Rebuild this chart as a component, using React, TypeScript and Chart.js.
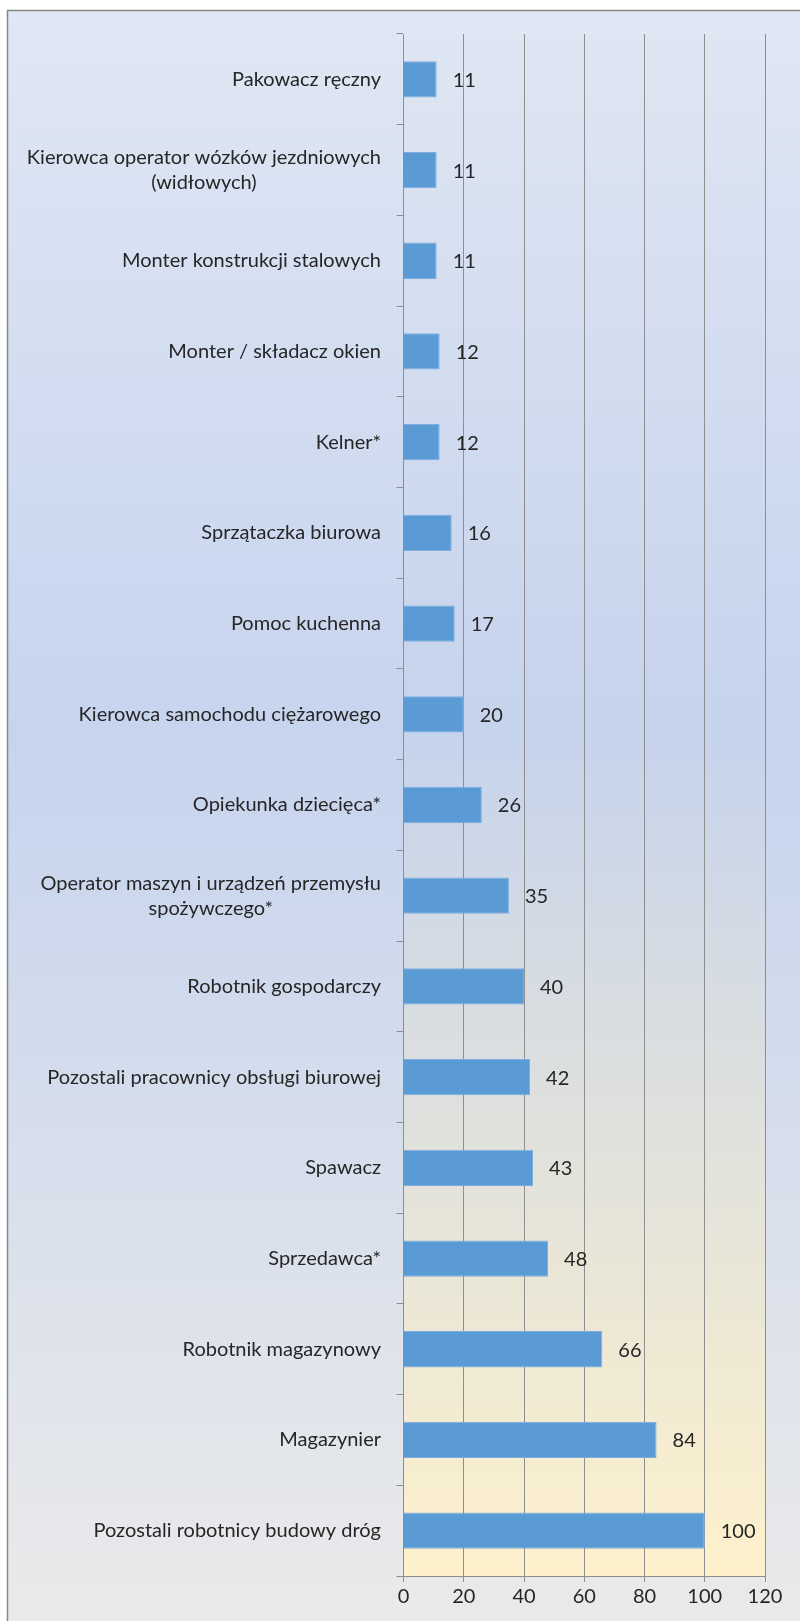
import React, { useEffect, useRef } from "react";
import { Chart, registerables } from "chart.js";

Chart.register(...registerables);

const categories: (string | string[])[] = [
  "Pakowacz ręczny",
  ["Kierowca operator wózków jezdniowych", "(widłowych)"],
  "Monter konstrukcji stalowych",
  "Monter / składacz okien",
  "Kelner*",
  "Sprzątaczka biurowa",
  "Pomoc kuchenna",
  "Kierowca samochodu ciężarowego",
  "Opiekunka dziecięca*",
  ["Operator maszyn i urządzeń przemysłu", "spożywczego*"],
  "Robotnik gospodarczy",
  "Pozostali pracownicy obsługi biurowej",
  "Spawacz",
  "Sprzedawca*",
  "Robotnik magazynowy",
  "Magazynier",
  "Pozostali robotnicy budowy dróg",
];

const values = [11, 11, 11, 12, 12, 16, 17, 20, 26, 35, 40, 42, 43, 48, 66, 84, 100];

const xMin = 0;
const xMax = 120;
const xStep = 20;

const W = 800;
const H = 1621;
const FONT = "Lato, 'Open Sans', sans-serif";
const FS = 20;
const TEXT = "#262626";
const GRID = "#8e8e8e";
const LABEL_RIGHT = 381;
const LINE_H = 25;

export default function App() {
  const ref = useRef<HTMLCanvasElement | null>(null);

  useEffect(() => {
    const canvas = ref.current;
    if (!canvas) return;

    const bgPlugin = {
      id: "bg",
      beforeDraw(chart: any) {
        const { ctx, chartArea } = chart;
        ctx.save();
        ctx.fillStyle = "#ffffff";
        ctx.fillRect(0, 0, W, H);
        const g = ctx.createLinearGradient(0, 10, 0, H);
        g.addColorStop(0, "#e0e7f4");
        g.addColorStop(0.45, "#c6d4ee");
        g.addColorStop(1, "#eaeaea");
        ctx.fillStyle = g;
        ctx.fillRect(7, 10, W, H);
        ctx.strokeStyle = "#868686";
        ctx.lineWidth = 1.5;
        ctx.beginPath();
        ctx.moveTo(7.5, H + 5);
        ctx.lineTo(7.5, 10.5);
        ctx.lineTo(W + 5, 10.5);
        ctx.stroke();
        const pg = ctx.createLinearGradient(0, chartArea.top, 0, chartArea.bottom);
        pg.addColorStop(0, "#dfe6f3");
        pg.addColorStop(0.45, "#c5d3ec");
        pg.addColorStop(1, "#fef1cc");
        ctx.fillStyle = pg;
        ctx.fillRect(chartArea.left, chartArea.top, chartArea.right - chartArea.left, chartArea.bottom - chartArea.top);
        ctx.restore();
      },
      afterDraw(chart: any) {
        const { ctx } = chart;
        const ys = chart.scales.y;
        ctx.save();
        ctx.font = `${FS}px ${FONT}`;
        ctx.fillStyle = TEXT;
        ctx.textBaseline = "middle";
        ctx.textAlign = "center";
        categories.forEach((c, i) => {
          const lines = Array.isArray(c) ? c : [c];
          const y = ys.getPixelForValue(i);
          const maxW = Math.max(...lines.map((l) => ctx.measureText(l).width));
          const cx = LABEL_RIGHT - maxW / 2;
          lines.forEach((l, k) => {
            ctx.fillText(l, cx, y + (k - (lines.length - 1) / 2) * LINE_H);
          });
        });
        const meta = chart.getDatasetMeta(0);
        ctx.textAlign = "left";
        meta.data.forEach((bar: any, i: number) => {
          ctx.fillText(String(values[i]), bar.x + 16, bar.y + 1);
        });
        ctx.restore();
      },
    };

    const chart = new Chart(canvas, {
      type: "bar",
      data: {
        labels: categories,
        datasets: [
          {
            data: values,
            backgroundColor: "#5b9bd5",
            borderColor: "#7fade0",
            borderWidth: 1,
            barPercentage: 0.4,
            categoryPercentage: 1,
          },
        ],
      },
      options: {
        indexAxis: "y",
        responsive: false,
        animation: false,
        devicePixelRatio: 1,
        layout: { padding: { top: 34, right: 35, left: 0, bottom: 0 } },
        plugins: { legend: { display: false }, tooltip: { enabled: false } },
        scales: {
          x: {
            type: "linear",
            min: xMin,
            max: xMax,
            ticks: { stepSize: xStep, color: TEXT, font: { family: FONT, size: FS }, padding: 3 },
            grid: { color: GRID, lineWidth: 1, tickLength: 6, drawTicks: true },
            border: { display: true, color: GRID, width: 1 },
            afterFit(scale: any) {
              scale.height = 45;
            },
          },
          y: {
            type: "category",
            ticks: { display: false },
            grid: { offset: true, drawOnChartArea: false, drawTicks: true, tickLength: 7, color: GRID },
            border: { display: true, color: GRID, width: 1 },
            afterFit(scale: any) {
              scale.width = 403.5;
            },
          },
        },
      },
      plugins: [bgPlugin],
    } as any);

    return () => chart.destroy();
  }, []);

  return (
    <div style={{ position: "absolute", left: 0, top: 0, width: W, height: H, overflow: "hidden" }}>
      <canvas ref={ref} width={W} height={H} style={{ display: "block", width: W, height: H }} />
    </div>
  );
}
